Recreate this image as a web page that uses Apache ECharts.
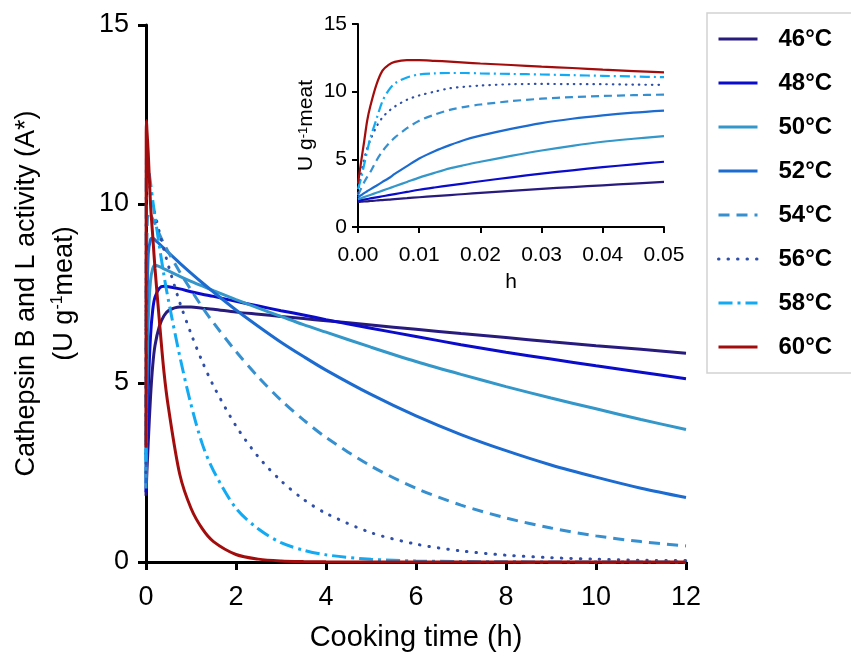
<!DOCTYPE html>
<html><head><meta charset="utf-8">
<script src="https://cdn.jsdelivr.net/npm/echarts@6/dist/echarts.min.js"></script>
<style>html,body{margin:0;padding:0;background:#fff}#c{width:851px;height:657px}</style>
</head><body><div id="c"></div>
<script>
const temps = ['46°C','48°C','50°C','52°C','54°C','56°C','58°C','60°C'];
const mainTime = [0,0.005,0.01,0.02,0.05,0.1,0.15,0.2,0.3,0.4,0.5,0.75,1,1.25,1.5,2,2.5,3,3.5,4,5,6,7,8,9,10,11,12];
const main46 = [1.85,2.02,2.2,2.52,3.34,4.6,5.5,6.05,6.6,6.88,7.02,7.12,7.12,7.09,7.06,6.98,6.92,6.86,6.8,6.74,6.62,6.5,6.38,6.27,6.15,6.04,5.94,5.83];
const main48 = [1.95,2.35,2.75,3.38,4.82,6.3,7.05,7.4,7.65,7.7,7.69,7.63,7.55,7.48,7.42,7.28,7.15,7.02,6.9,6.77,6.53,6.3,6.07,5.86,5.67,5.48,5.3,5.12];
const main50 = [2.05,2.85,3.65,4.82,6.72,7.85,8.2,8.29,8.25,8.19,8.13,7.98,7.84,7.71,7.58,7.33,7.09,6.86,6.63,6.42,6.0,5.6,5.24,4.9,4.58,4.28,3.98,3.7];
const main52 = [2.2,3.6,5.06,6.75,8.6,9.0,9.05,9.0,8.88,8.76,8.64,8.35,8.07,7.8,7.54,7.04,6.58,6.14,5.74,5.36,4.68,4.08,3.56,3.11,2.71,2.37,2.06,1.8];
const main54 = [2.35,6.15,7.85,9.05,9.78,9.7,9.58,9.45,9.15,8.88,8.65,8.1,7.6,7.12,6.68,5.88,5.16,4.52,3.97,3.48,2.68,2.06,1.59,1.23,0.95,0.73,0.57,0.45];
const main56 = [2.5,8.55,9.72,10.45,10.5,10.25,10.0,9.72,9.2,8.72,8.27,7.25,6.38,5.6,4.92,3.8,2.93,2.27,1.75,1.36,0.82,0.5,0.31,0.19,0.12,0.08,0.05,0.04];
const main58 = [2.8,10.1,11.27,11.35,11.07,10.6,10.1,9.65,8.8,8.0,7.3,5.75,4.4,3.3,2.55,1.5,0.92,0.54,0.33,0.2,0.075,0.03,0.012,0.005,0.002,0.001,0,0];
const main60 = [3.2,11.98,12.33,12.08,11.42,10.0,9.1,8.2,6.7,5.3,4.3,2.45,1.5,0.93,0.57,0.21,0.08,0.03,0.012,0.005,0.001,0,0,0,0,0,0,0];

const insetTime = [0,0.0005,0.001,0.0015,0.002,0.003,0.004,0.005,0.006,0.008,0.01,0.0125,0.015,0.0175,0.02,0.025,0.03,0.035,0.04,0.045,0.05];
const in46 = [1.85,1.87,1.89,1.9,1.92,1.96,1.99,2.02,2.06,2.13,2.2,2.28,2.36,2.44,2.52,2.67,2.82,2.95,3.08,3.21,3.34];
const in48 = [1.95,1.99,2.03,2.07,2.11,2.19,2.27,2.35,2.43,2.59,2.75,2.92,3.08,3.23,3.38,3.67,3.95,4.19,4.42,4.63,4.82];
const in50 = [2.05,2.13,2.21,2.29,2.37,2.53,2.69,2.85,3.01,3.33,3.65,4.0,4.33,4.58,4.82,5.25,5.65,6.0,6.3,6.52,6.72];
const in52 = [2.2,2.35,2.5,2.64,2.78,3.05,3.33,3.6,3.92,4.5,5.06,5.6,6.05,6.45,6.75,7.25,7.68,8.0,8.25,8.45,8.6];
const in54 = [2.35,2.85,3.3,3.7,4.05,4.9,5.6,6.15,6.6,7.3,7.85,8.3,8.65,8.88,9.05,9.3,9.48,9.6,9.68,9.74,9.78];
const in56 = [2.5,3.9,5.0,5.8,6.4,7.4,8.1,8.55,8.9,9.4,9.72,10.0,10.25,10.37,10.45,10.55,10.57,10.56,10.55,10.52,10.5];
const in58 = [2.8,3.6,4.6,5.6,6.55,7.95,9.3,10.1,10.6,11.05,11.27,11.35,11.38,11.38,11.35,11.31,11.27,11.22,11.17,11.12,11.07];
const in60 = [3.2,4.8,6.3,7.85,8.9,10.5,11.55,11.98,12.2,12.33,12.33,12.28,12.22,12.15,12.08,11.97,11.85,11.75,11.63,11.52,11.42];

const mainSets = [main46,main48,main50,main52,main54,main56,main58,main60];
const insetSets = [in46,in48,in50,in52,in54,in56,in58,in60];
const colors = ['#271b7e','#0b0bcc','#3397c9','#1b6bd0','#3690d0','#2f4fa8','#12aaf2','#a30c0c'];
const dashes = ['solid','solid','solid','solid',[11,7],[0.5,9],[14,5,3,5],'solid'];
const caps = ['butt','butt','butt','butt','butt','round','butt','butt'];
const inDashes = ['solid','solid','solid','solid',[8,5],[0.5,6],[10,4,2,4],'solid'];

const FONT = 'Arial, "Liberation Sans", sans-serif';
const series = [];
temps.forEach((n,i)=>{
  series.push({name:n,type:'line',xAxisIndex:0,yAxisIndex:0,showSymbol:false,symbol:'none',smooth:0.3,
    data: mainTime.map((t,k)=>[t,mainSets[i][k]]),
    lineStyle:{color:colors[i],width:3,type:dashes[i],cap:caps[i]},itemStyle:{color:colors[i]},z:2+i, clip:false});
});
temps.forEach((n,i)=>{
  series.push({name:n,type:'line',xAxisIndex:1,yAxisIndex:1,showSymbol:false,symbol:'none',smooth:0.3,
    data: insetTime.map((t,k)=>[t,insetSets[i][k]]),
    lineStyle:{color:colors[i],width:2.2,type:inDashes[i],cap:caps[i]},itemStyle:{color:colors[i]},z:2+i, clip:false});
});

const chart = echarts.init(document.getElementById('c'));
chart.setOption({
  animation:false,
  backgroundColor:'#fff',
  textStyle:{fontFamily:FONT},
  legend:{
    data:temps, orient:'vertical', left:707, top:13,
    itemWidth:39, itemHeight:20, itemGap:20,
    padding:[14,40,14,10],
    borderColor:'#d2d2d2', borderWidth:1.5,
    itemStyle:{opacity:0},
    lineStyle:{width:3},
    textStyle:{fontSize:24,fontWeight:'bold',color:'#000',fontFamily:FONT,padding:[0,0,0,16],lineHeight:20}
  },
  grid:[
    {left:146,top:25,width:540,height:538},
    {left:358,top:24,width:306,height:203}
  ],
  xAxis:[
    {gridIndex:0,type:'value',min:0,max:12,interval:2,
     axisLine:{lineStyle:{color:'#000',width:3}},
     axisTick:{length:8,lineStyle:{color:'#000',width:3}},
     splitLine:{show:false},
     axisLabel:{fontSize:27,color:'#000',margin:22,fontFamily:FONT},
     name:'Cooking time (h)',nameLocation:'middle',nameGap:61,
     nameTextStyle:{fontSize:29,color:'#000',fontFamily:FONT}},
    {gridIndex:1,type:'value',min:0,max:0.05,interval:0.01,
     axisLine:{lineStyle:{color:'#000',width:2}},
     axisTick:{length:6,lineStyle:{color:'#000',width:2}},
     splitLine:{show:false},
     axisLabel:{fontSize:21,color:'#000',margin:18,fontFamily:FONT,formatter:v=>v.toFixed(2)},
     name:'h',nameLocation:'middle',nameGap:45,
     nameTextStyle:{fontSize:21,color:'#000',fontFamily:FONT}}
  ],
  yAxis:[
    {gridIndex:0,type:'value',min:0,max:15,interval:5,
     axisLine:{show:true,lineStyle:{color:'#000',width:3}},
     axisTick:{show:true,length:8,lineStyle:{color:'#000',width:3}},
     splitLine:{show:false},
     axisLabel:{fontSize:27,color:'#000',margin:17,fontFamily:FONT},
     name:'{a|Cathepsin B and L activity (A*)}\n{a|(U g}{s|-1}{a|meat)}',
     nameLocation:'middle',nameGap:62,nameRotate:90,
     nameTextStyle:{color:'#000',fontFamily:FONT,
       rich:{a:{fontSize:27,lineHeight:38,color:'#000',fontFamily:FONT},
             s:{fontSize:16,lineHeight:16,verticalAlign:'top',padding:[4,0,0,0],color:'#000',fontFamily:FONT}}}},
    {gridIndex:1,type:'value',min:0,max:15,interval:5,
     axisLine:{show:true,lineStyle:{color:'#000',width:2}},
     axisTick:{show:true,length:6,lineStyle:{color:'#000',width:2}},
     splitLine:{show:false},
     axisLabel:{fontSize:21,color:'#000',margin:11,fontFamily:FONT},
     name:'{a|U g}{s|-1}{a|meat}',
     nameLocation:'middle',nameGap:40,nameRotate:90,
     nameTextStyle:{color:'#000',fontFamily:FONT,
       rich:{a:{fontSize:21,lineHeight:24,color:'#000',fontFamily:FONT},
             s:{fontSize:13,lineHeight:13,verticalAlign:'top',padding:[3,0,0,0],color:'#000',fontFamily:FONT}}}}
  ],
  series:series
});
</script></body></html>
